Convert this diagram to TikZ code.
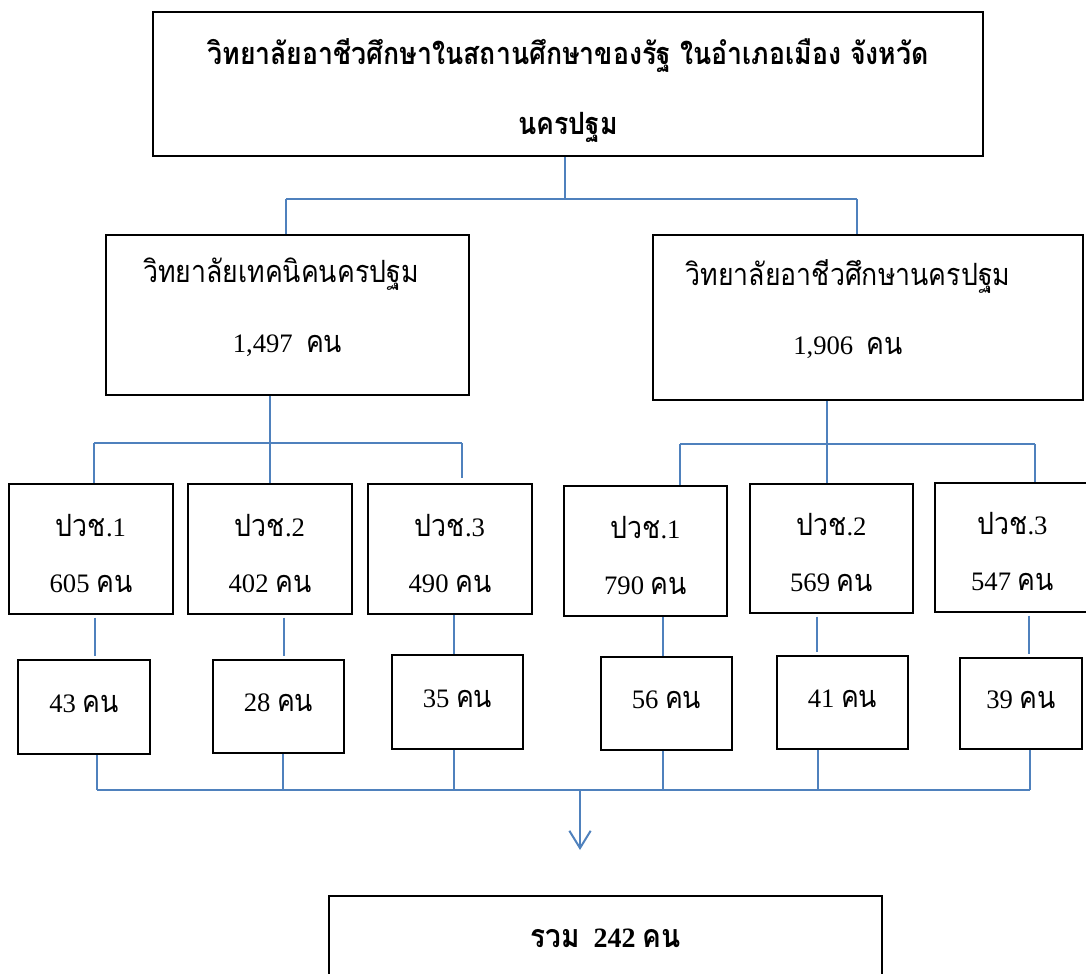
\documentclass[tikz,border=0pt]{standalone}
\usepackage{fontspec}
\setmainfont{Liberation Serif}
\newfontfamily\thaifont[Script=Thai,Scale=1.15,FakeStretch=0.87]{Loma}
\newcommand{\T}[1]{{\thaifont #1}}
\usetikzlibrary{arrows.meta}
\definecolor{linkblue}{RGB}{79,129,189}
\begin{document}
\begin{tikzpicture}[x=0.75pt,y=-0.75pt,
  box/.style={draw=black,line width=1.3pt,inner sep=0pt,align=center,fill=white},
  sz/.style 2 args={minimum width=#1*0.75pt,minimum height=#2*0.75pt},
  bigtxt/.style={font=\fontsize{20pt}{52pt}\selectfont,text depth=5pt},
  midtxt/.style={font=\fontsize{20pt}{42pt}\selectfont,text height=67.5pt,text depth=3pt},
  smalltxt/.style={font=\fontsize{20pt}{24pt}\selectfont,text height=15pt,text depth=7.5pt},
  conn/.style={draw=linkblue,line width=1.5pt},
  gap/.style={shorten <=2pt,shorten >=2pt}]
\useasboundingbox (0,0) rectangle (1086,974);
% boxes
\node[box,sz={830}{144},font=\fontsize{20pt}{52pt}\selectfont\bfseries,text height=80pt,text depth=5pt] (top) at (568,84)
  {\T{วิทยาลัยอาชีวศึกษาในสถานศึกษาของรัฐ ในอำเภอเมือง จังหวัด}\\\T{นครปฐม}};
\node[box,sz={363}{160},bigtxt,text height=60.5pt] (m1) at (287.5,315) {\T{วิทยาลัยเทคนิคนครปฐม}\hspace*{10pt}\\1,497\ \ \T{คน}};
\node[box,sz={430}{165},bigtxt,text height=61pt] (m2) at (868,317.5) {\T{วิทยาลัยอาชีวศึกษานครปฐม}\hspace*{30pt}\\1,906\ \ \T{คน}\hspace*{30pt}};
\node[box,sz={164}{130},midtxt] (a1) at (91,549) {\T{ปวช}.1\\605 \T{คน}};
\node[box,sz={164}{130},midtxt] (a2) at (270,549) {\T{ปวช}.2\\402 \T{คน}};
\node[box,sz={164}{130},midtxt] (a3) at (450,549) {\T{ปวช}.3\\490 \T{คน}};
\node[box,sz={163}{130},midtxt] (b1) at (645.5,551) {\T{ปวช}.1\\790 \T{คน}};
\node[box,sz={163}{129},midtxt] (b2) at (831.5,548.5) {\T{ปวช}.2\\569 \T{คน}};
\node[box,sz={155}{129},midtxt] (b3) at (1012.5,547.5) {\T{ปวช}.3\\547 \T{คน}};
\node[box,sz={132}{94},smalltxt] (l1) at (84,707) {43 \T{คน}};
\node[box,sz={131}{93},smalltxt] (l2) at (278.5,706.5) {28 \T{คน}};
\node[box,sz={131}{94},smalltxt] (l3) at (457.5,702) {35 \T{คน}};
\node[box,sz={131}{93},smalltxt] (r1) at (666.5,703.5) {56 \T{คน}};
\node[box,sz={131}{93},smalltxt] (r2) at (842.5,702.5) {41 \T{คน}};
\node[box,sz={122}{91},smalltxt] (r3) at (1021,703.5) {39 \T{คน}};
\node[box,sz={553}{84},font=\fontsize{21pt}{24pt}\selectfont\bfseries] (tot) at (605.5,938) {\T{รวม}\ \ 242 \T{คน}};
% junction coordinates
\coordinate (jt) at (565,199);
\coordinate (jtl) at (286,199);
\coordinate (jtr) at (857,199);
\coordinate (jm1) at (270,443);
\coordinate (jm1l) at (94,443);
\coordinate (jm1r) at (462,443);
\coordinate (jm2) at (827,444);
\coordinate (jm2l) at (680,444);
\coordinate (jm2r) at (1035,444);
\coordinate (ja1) at (95,0);
\coordinate (ja2) at (284,0);
\coordinate (ja3) at (454,0);
\coordinate (jb1) at (663,0);
\coordinate (jb2) at (817,0);
\coordinate (jb3) at (1029,0);
\coordinate (busl) at (97,790);
\coordinate (busr) at (1030,790);
\coordinate (bl2) at (283,790);
\coordinate (bl3) at (454,790);
\coordinate (br1) at (663,790);
\coordinate (br2) at (818,790);
\coordinate (arrs) at (580,790);
\coordinate (arre) at (580,850);
% top level
\draw[conn] (top.south -| jt) -- (jt);
\draw[conn] (jtl) -- (jtr);
\draw[conn] (jtl) -- (jtl |- m1.north);
\draw[conn] (jtr) -- (jtr |- m2.north);
% left branch
\draw[conn] (m1.south -| jm1) -- (jm1);
\draw[conn] (jm1l) -- (jm1r);
\draw[conn] (jm1l) -- (jm1l |- a1.north);
\draw[conn] (jm1) -- (jm1 |- a2.north);
\draw[conn,shorten >=4pt] (jm1r) -- (jm1r |- a3.north);
% right branch
\draw[conn] (m2.south -| jm2) -- (jm2);
\draw[conn] (jm2l) -- (jm2r);
\draw[conn] (jm2l) -- (jm2l |- b1.north);
\draw[conn] (jm2) -- (jm2 |- b2.north);
\draw[conn] (jm2r) -- (jm2r |- b3.north);
% level 3 to level 4
\draw[conn,gap] (a1.south -| ja1) -- (l1.north -| ja1);
\draw[conn,gap] (a2.south -| ja2) -- (l2.north -| ja2);
\draw[conn] (a3.south -| ja3) -- (l3.north -| ja3);
\draw[conn] (b1.south -| jb1) -- (r1.north -| jb1);
\draw[conn,gap] (b2.south -| jb2) -- (r2.north -| jb2);
\draw[conn,gap] (b3.south -| jb3) -- (r3.north -| jb3);
% bottom bus
\draw[conn] (busl) -- (busr);
\draw[conn] (l1.south -| busl) -- (busl);
\draw[conn] (l2.south -| bl2) -- (bl2);
\draw[conn] (l3.south -| bl3) -- (bl3);
\draw[conn] (r1.south -| br1) -- (br1);
\draw[conn] (r2.south -| br2) -- (br2);
\draw[conn] (r3.south -| busr) -- (busr);
\draw[conn,-{Straight Barb[length=13pt,width=16pt]}] (arrs) -- (arre);
\end{tikzpicture}
\end{document}
